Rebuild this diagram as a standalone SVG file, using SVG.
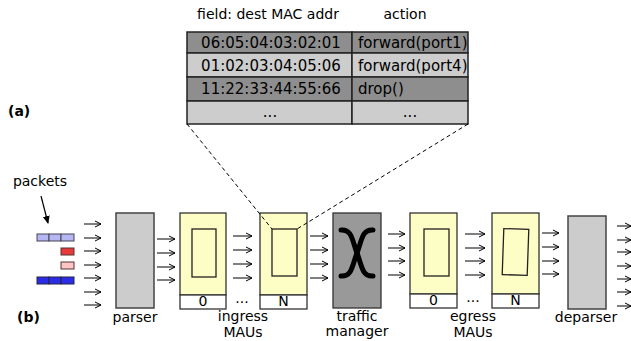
<svg xmlns="http://www.w3.org/2000/svg" width="631" height="341" viewBox="0 0 631 341">
<defs>
<marker id="ah" markerUnits="userSpaceOnUse" markerWidth="8" markerHeight="8" refX="7" refY="4" orient="auto">
<path d="M1,1 L7,4 L1,7" fill="none" stroke="#000" stroke-width="1"/>
</marker>
<marker id="ahf" markerUnits="userSpaceOnUse" markerWidth="8" markerHeight="8" refX="7" refY="4" orient="auto">
<path d="M0,0.5 L8,4 L0,7.5 Z" fill="#000"/>
</marker>
</defs>
<style>
text{font-family:"DejaVu Sans","Liberation Sans",sans-serif;fill:#000}
.lbl{font-size:14px;text-anchor:middle}
.tt{font-size:15px}
.c{text-anchor:middle}
.dark{fill:#8e8e8e;stroke:#222;stroke-width:1.5}
.light{fill:#cdcdcd;stroke:#222;stroke-width:1.5}
.mau{fill:#fdfdc6;stroke:#333;stroke-width:1.3}
.inner{fill:#fdfdc6;stroke:#222;stroke-width:1.3}
.tag{fill:#fff;stroke:#333;stroke-width:1.3}
.gray{fill:#cccccc;stroke:#444;stroke-width:1.5}
.arr{stroke:#000;stroke-width:1;fill:none;marker-end:url(#ah)}
.dash{stroke:#000;stroke-width:1;stroke-dasharray:4,3;fill:none}
.bold{font-size:14px;font-weight:bold}
</style>

<g id="table">
<text class="lbl" x="268" y="19">field: dest MAC addr</text>
<text class="lbl" x="405" y="19">action</text>
<rect class="dark" x="187" y="32" width="165" height="21"/>
<rect class="dark" x="352" y="32" width="116" height="21"/>
<rect class="light" x="187" y="53" width="165" height="24"/>
<rect class="light" x="352" y="53" width="116" height="24"/>
<rect class="dark" x="187" y="77" width="165" height="24"/>
<rect class="dark" x="352" y="77" width="116" height="24"/>
<rect class="light" x="187" y="101" width="165" height="23"/>
<rect class="light" x="352" y="101" width="116" height="23"/>
<text class="tt c" x="271" y="47.5">06:05:04:03:02:01</text>
<text class="tt c" x="271" y="70.5">01:02:03:04:05:06</text>
<text class="tt c" x="271" y="94">11:22:33:44:55:66</text>
<text class="tt c" x="270" y="117">...</text>
<text class="tt" x="358" y="47.5">forward(port1)</text>
<text class="tt" x="358" y="70.5">forward(port4)</text>
<text class="tt" x="358" y="94">drop()</text>
<text class="tt c" x="410" y="117">...</text>
</g>

<g id="label-a"><text class="bold" x="8" y="116">(a)</text></g>
<g id="label-b"><text class="bold" x="17" y="322">(b)</text></g>

<g id="packets">
<text class="lbl" x="40" y="186">packets</text>
<rect x="37" y="234" width="12" height="7" fill="#b6b6f2" stroke="#445" stroke-width="1"/>
<rect x="49" y="234" width="12" height="7" fill="#b6b6f2" stroke="#445" stroke-width="1"/>
<rect x="61" y="234" width="13" height="7" fill="#b6b6f2" stroke="#445" stroke-width="1"/>
<rect x="61" y="248" width="13" height="7" fill="#e83a3a" stroke="#533" stroke-width="1"/>
<rect x="61" y="262" width="13" height="7" fill="#ffc4c4" stroke="#533" stroke-width="1"/>
<rect x="37" y="277" width="12" height="7" fill="#2c2ce6" stroke="#224" stroke-width="1"/>
<rect x="49" y="277" width="12" height="7" fill="#2c2ce6" stroke="#224" stroke-width="1"/>
<rect x="61" y="277" width="13" height="7" fill="#2c2ce6" stroke="#224" stroke-width="1"/>
</g>

<g id="parser">
<rect class="gray" x="116" y="213" width="38" height="95"/>
<text class="lbl" x="135" y="322">parser</text>
</g>

<g id="ingress-0">
<rect class="mau" x="180" y="213" width="46" height="82"/>
<rect class="tag" x="180" y="295" width="46" height="14"/>
<rect class="inner" x="192" y="229" width="24" height="48"/>
<text class="lbl" x="203" y="306">0</text>
</g>
<g id="ingress-N">
<rect class="mau" x="260" y="213" width="47" height="82"/>
<rect class="tag" x="260" y="295" width="47" height="14"/>
<rect class="inner" x="272" y="229" width="25" height="47"/>
<text class="lbl" x="283.5" y="306">N</text>
</g>
<g id="ingress-label">
<text class="lbl" x="242" y="303">...</text>
<text class="lbl" x="243" y="321">ingress</text>
<text class="lbl" x="243" y="337">MAUs</text>
</g>

<g id="traffic-manager">
<rect x="333" y="213" width="48" height="95" fill="#999" stroke="#333" stroke-width="1.3"/>
<path d="M341,230 C352,229 352,240 357,253 C362,266 362,277 373,276" fill="none" stroke="#000" stroke-width="5" stroke-linecap="round"/>
<path d="M373,230 C362,229 362,240 357,253 C352,266 352,277 341,276" fill="none" stroke="#000" stroke-width="5" stroke-linecap="round"/>
<text class="lbl" x="357" y="321">traffic</text>
<text class="lbl" x="357" y="336">manager</text>
</g>

<g id="egress-0">
<rect class="mau" x="410" y="213" width="47" height="81"/>
<rect class="tag" x="410" y="294" width="47" height="14"/>
<rect class="inner" x="424" y="229" width="25" height="47"/>
<text class="lbl" x="433.5" y="305">0</text>
</g>
<g id="egress-N">
<rect class="mau" x="492" y="213" width="47" height="81"/>
<rect class="tag" x="492" y="294" width="47" height="14"/>
<rect class="inner" x="503" y="229" width="25" height="46" transform="rotate(2 515.5 252)"/>
<text class="lbl" x="515.5" y="305">N</text>
</g>
<g id="egress-label">
<text class="lbl" x="473" y="302">...</text>
<text class="lbl" x="473" y="321">egress</text>
<text class="lbl" x="473" y="337">MAUs</text>
</g>

<g id="deparser">
<rect class="gray" x="568" y="216" width="38" height="93"/>
<text class="lbl" x="586" y="322">deparser</text>
</g>

<g id="connectors">
<path class="dash" d="M187,124 L272,229"/>
<path class="dash" d="M468,124 L297,229"/>
<path d="M41,196 L48,223" stroke="#000" stroke-width="1.2" fill="none" marker-end="url(#ahf)"/>
<path class="arr" d="M84,224 H101"/>
<path class="arr" d="M84,238 H101"/>
<path class="arr" d="M84,251 H101"/>
<path class="arr" d="M84,265 H101"/>
<path class="arr" d="M84,278 H101"/>
<path class="arr" d="M84,292 H101"/>
<path class="arr" d="M84,305 H101"/>
<path class="arr" d="M157,239 H175"/>
<path class="arr" d="M157,253 H175"/>
<path class="arr" d="M157,267 H175"/>
<path class="arr" d="M157,280 H175"/>
<path class="arr" d="M233,236 H252"/>
<path class="arr" d="M233,250 H252"/>
<path class="arr" d="M233,264 H252"/>
<path class="arr" d="M233,278 H252"/>
<path class="arr" d="M310,236 H328"/>
<path class="arr" d="M310,250 H328"/>
<path class="arr" d="M310,264 H328"/>
<path class="arr" d="M310,278 H328"/>
<path class="arr" d="M388,234 H405"/>
<path class="arr" d="M388,248 H405"/>
<path class="arr" d="M388,261 H405"/>
<path class="arr" d="M388,275 H405"/>
<path class="arr" d="M465,234 H485"/>
<path class="arr" d="M465,248 H485"/>
<path class="arr" d="M465,261 H485"/>
<path class="arr" d="M465,275 H485"/>
<path class="arr" d="M542,233 H559"/>
<path class="arr" d="M542,247 H559"/>
<path class="arr" d="M542,261 H559"/>
<path class="arr" d="M542,274 H559"/>
<path class="arr" d="M617,226 H631"/>
<path class="arr" d="M617,240 H631"/>
<path class="arr" d="M617,252 H631"/>
<path class="arr" d="M617,266 H631"/>
<path class="arr" d="M617,279 H631"/>
<path class="arr" d="M617,292 H631"/>
<path class="arr" d="M617,306 H631"/>
</g>
</svg>
